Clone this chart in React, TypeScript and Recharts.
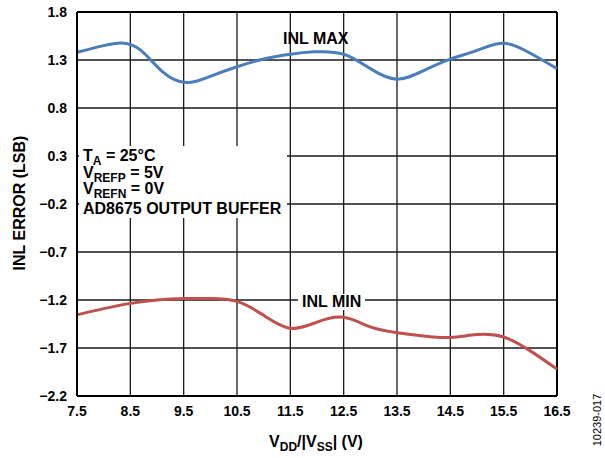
import React from 'react';
import { LineChart, Line, XAxis, YAxis, CartesianGrid, ReferenceLine } from 'recharts';

// supply voltage VDD/|VSS| (V)
const xTicks = [7.5, 8.5, 9.5, 10.5, 11.5, 12.5, 13.5, 14.5, 15.5, 16.5];
const yTicks = [-2.2, -1.7, -1.2, -0.7, -0.2, 0.3, 0.8, 1.3, 1.8];

// INL MAX (LSB)
const maxVolts = [7.5, 8.0, 8.35, 8.7, 9.1, 9.55, 10.0, 10.5, 11.0, 11.5, 11.95, 12.5, 13.0, 13.5, 14.0, 14.5, 15.0, 15.5, 16.0, 16.5];
const maxInl = [1.38, 1.45, 1.477, 1.40, 1.18, 1.065, 1.13, 1.23, 1.31, 1.36, 1.385, 1.36, 1.21, 1.10, 1.19, 1.31, 1.40, 1.475, 1.37, 1.21];

// INL MIN (LSB)
const minVolts = [7.5, 8.0, 8.5, 9.0, 9.5, 10.0, 10.5, 11.0, 11.5, 12.0, 12.5, 13.0, 13.5, 14.0, 14.5, 15.0, 15.5, 16.0, 16.5];
const minInl = [-1.355, -1.29, -1.235, -1.2, -1.185, -1.185, -1.215, -1.36, -1.495, -1.43, -1.38, -1.48, -1.54, -1.575, -1.59, -1.56, -1.585, -1.73, -1.92];

const maxData = maxVolts.map((x, i) => ({ x, v: maxInl[i] }));
const minData = minVolts.map((x, i) => ({ x, v: minInl[i] }));

const font = 'Liberation Sans, Arial, Helvetica, sans-serif';
const tickStyle = { fill: '#000', fontSize: 14, fontWeight: 'bold', fontFamily: font };

const fmtY = (v: number) => (v < 0 ? '\u2212' + Math.abs(v).toFixed(1) : v.toFixed(1));

const sub = { fontSize: 12, position: 'relative' as const, top: 4 };
const txt: React.CSSProperties = {
  position: 'absolute',
  fontFamily: font,
  fontWeight: 'bold',
  fontSize: 16,
  lineHeight: '16px',
  whiteSpace: 'nowrap',
  color: '#000',
};

export default function App() {
  return (
    <div style={{ position: 'absolute', left: 0, top: 0, width: 605, height: 458, background: '#fff' }}>
      <LineChart width={605} height={458} margin={{ top: 12, right: 48, left: 0, bottom: 0 }}>
        <CartesianGrid stroke="#1a1a1a" strokeWidth={1.3} />
        <XAxis
          type="number"
          dataKey="x"
          domain={[7.5, 16.5]}
          ticks={xTicks}
          interval={0}
          height={62}
          tickLine={false}
          tickMargin={4}
          tick={tickStyle}
          axisLine={{ stroke: '#000', strokeWidth: 2 }}
        />
        <YAxis
          type="number"
          domain={[-2.2, 1.8]}
          ticks={yTicks}
          interval={0}
          width={77}
          tickLine={false}
          tickMargin={4}
          tick={tickStyle}
          tickFormatter={fmtY}
          axisLine={{ stroke: '#000', strokeWidth: 2 }}
        />
        <ReferenceLine y={1.8} stroke="#000" strokeWidth={2} />
        <ReferenceLine x={16.5} stroke="#000" strokeWidth={2} />
        <Line data={maxData} dataKey="v" type="natural" stroke="#4a7ebb" strokeWidth={3} dot={false} isAnimationActive={false} />
        <Line data={minData} dataKey="v" type="natural" stroke="#c0504d" strokeWidth={3} dot={false} isAnimationActive={false} />
      </LineChart>

      {/* conditions box */}
      <div style={{ position: 'absolute', left: 79, top: 146, width: 208, height: 72, background: '#fff' }} />
      <div style={{ ...txt, left: 83, top: 148 }}>
        T<span style={sub}>A</span> = 25°C
      </div>
      <div style={{ ...txt, left: 83, top: 165 }}>
        V<span style={sub}>REFP</span> = 5V
      </div>
      <div style={{ ...txt, left: 83, top: 181 }}>
        V<span style={sub}>REFN</span> = 0V
      </div>
      <div style={{ ...txt, left: 83, top: 201 }}>AD8675 OUTPUT BUFFER</div>

      {/* series labels */}
      <div style={{ ...txt, left: 283, top: 31 }}>INL MAX</div>
      <div style={{ ...txt, left: 298, top: 294, padding: '0 4px', background: '#fff' }}>INL MIN</div>

      {/* axis titles */}
      <div style={{ ...txt, left: 316, top: 434, transform: 'translateX(-50%)' }}>
        V<span style={sub}>DD</span>/|V<span style={sub}>SS</span>| (V)
      </div>
      <div style={{ ...txt, left: 20, top: 203, transform: 'translate(-50%, -50%) rotate(-90deg)' }}>INL ERROR (LSB)</div>
      <div
        style={{
          ...txt,
          fontWeight: 'normal',
          fontSize: 11,
          lineHeight: '11px',
          left: 597,
          top: 420,
          transform: 'translate(-50%, -50%) rotate(-90deg)',
        }}
      >
        10239-017
      </div>
    </div>
  );
}
